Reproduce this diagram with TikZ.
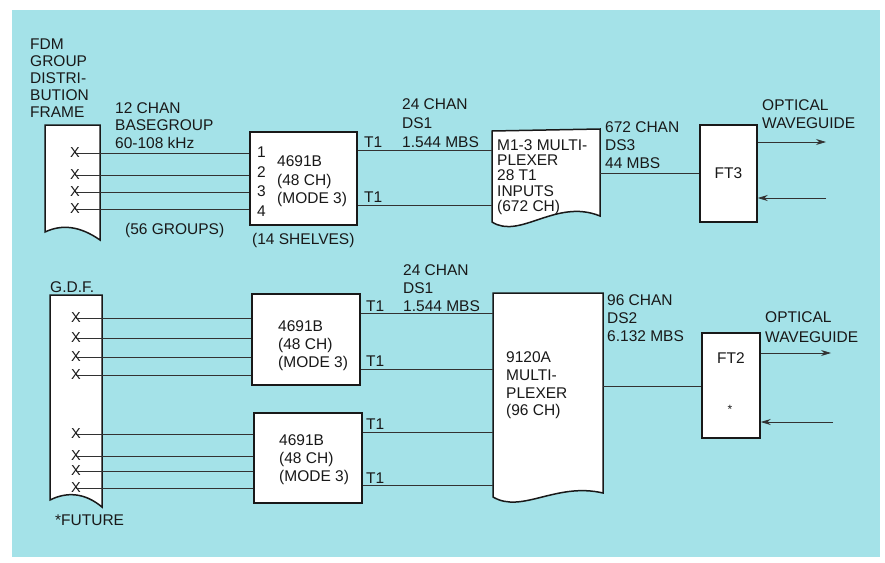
\documentclass[tikz,border=0pt]{standalone}
\usepackage{fontspec}
\setmainfont{Liberation Sans}
\usetikzlibrary{arrows.meta}
\definecolor{bgc}{RGB}{164,226,232}
\definecolor{ink}{RGB}{25,25,25}
\definecolor{wire}{RGB}{50,50,50}
\begin{document}
\begin{tikzpicture}[x=1pt,y=-1pt,
  lbl/.style={anchor=west,inner sep=0pt,align=left,text=ink,font=\fontsize{15.5}{18}\selectfont},
  tight/.style={font=\fontsize{15.5}{15.3}\selectfont},
  unitbox/.style={draw=ink,line width=1.5pt,fill=white,inner sep=0pt,minimum width=#1},
  ghost/.style={draw=none,inner sep=0pt},
  xmark/.style={inner sep=0pt,text=ink,font=\fontsize{14.5}{14.5}\selectfont},
  wireline/.style={draw=wire,line width=0.8pt},
  shapeline/.style={draw=ink,line width=1.5pt,fill=white},
  sig/.style={wireline,-{Stealth[length=10pt,width=6pt]}}
]
% background
\useasboundingbox (0,0) rectangle (885,562);
\fill[white] (0,0) rectangle (885,562);
\fill[bgc] (12,10) rectangle (880,557);

% ---------- frames ----------
\path[shapeline] (45,125) -- (45,232) .. controls (62,224) and (80,226) .. (100,240) -- (100,125) -- cycle;
\path[shapeline] (50,295) -- (50,500) .. controls (66,492) and (84,492) .. (102,507) -- (102,295) -- cycle;

% ---------- multiplexers ----------
\path[shapeline] (492,131) -- (492,222) .. controls (520,240) and (556,198) .. (600,216) -- (600,129) -- cycle;
\path[shapeline] (493,293) -- (493,497) .. controls (522,514) and (556,482) .. (603,493) -- (603,293) -- cycle;
\node[ghost,minimum width=108,minimum height=90] (m1) at (546,176) {};
\node[ghost,minimum width=110,minimum height=200] (m2) at (548,395) {};

% ---------- boxes ----------
\node[unitbox=107,minimum height=93] (b1) at (303.5,178.5) {};
\node[unitbox=108,minimum height=91] (b2) at (306,339.5) {};
\node[unitbox=108,minimum height=90] (b3) at (308,458) {};
\node[unitbox=57,minimum height=97,text=ink,font=\fontsize{15.5}{18}\selectfont] (ft3) at (728.5,173.5) {FT3};
\node[unitbox=58,minimum height=105] (ft2) at (731,385.5) {};
\node[inner sep=0pt,text=ink,font=\fontsize{15.5}{18}\selectfont] (ft2l) at (731,358) {FT2};
\node[inner sep=0pt,text=ink,font=\fontsize{12}{12}\selectfont] (ft2s) at (730,409) {*};

% ---------- X marks ----------
\foreach \n/\y in {a1/153,a2/175,a3/192,a4/209}{\node[xmark] (\n) at (75,\y) {X};}
\foreach \n/\y in {c1/318,c2/338,c3/357,c4/375,d1/434,d2/456,d3/471,d4/488}{\node[xmark] (\n) at (76,\y) {X};}

% ---------- inputs ----------
\foreach \n in {a1,a2,a3,a4}{\draw[wireline] (\n.center) -- (b1.west |- \n.center);}
\foreach \n in {c1,c2,c3,c4}{\draw[wireline] (\n.center) -- (b2.west |- \n.center);}
\foreach \n in {d1,d2,d3,d4}{\draw[wireline] (\n.center) -- (b3.west |- \n.center);}

% ---------- T1 links ----------
\draw[wireline] (b1.east |- 0,150) -- (m1.west |- 0,150);
\draw[wireline] (b1.east |- 0,205) -- (m1.west |- 0,205);
\draw[wireline] (b2.east |- 0,313) -- (m2.west |- 0,313);
\draw[wireline] (b2.east |- 0,369) -- (m2.west |- 0,369);
\draw[wireline] (b3.east |- 0,432) -- (m2.west |- 0,432);
\draw[wireline] (b3.east |- 0,485) -- (m2.west |- 0,485);

% ---------- DS3 / DS2 ----------
\draw[wireline] (m1.east |- 0,173) -- (ft3.west |- 0,173);
\draw[wireline] (m2.east |- 0,386) -- (ft2.west |- 0,386);

% ---------- optical ----------
\coordinate (o3out) at (826,142);
\coordinate (o3in) at (826,198);
\coordinate (o2out) at (831,353);
\coordinate (o2in) at (833,422);
\draw[sig] (ft3.east |- o3out) -- (o3out);
\draw[sig] (o3in) -- (ft3.east |- o3in);
\draw[sig] (ft2.east |- o2out) -- (o2out);
\draw[sig] (o2in) -- (ft2.east |- o2in);

% ---------- labels ----------
\node[lbl,font=\fontsize{15.5}{17}\selectfont] (t0) at (30,78) {FDM\\GROUP\\DISTRI-\\BUTION\\FRAME};
\node[lbl,font=\fontsize{15.5}{17.5}\selectfont] (t1) at (115,125.5) {12 CHAN\\BASEGROUP\\60-108 kHz};
\node[lbl] (t2) at (125,230) {(56 GROUPS)};
\node[lbl] (t3) at (252,240) {(14 SHELVES)};
\foreach \k/\y in {1/152,2/172,3/191,4/211}{\node[lbl] (n\k) at (257,\y) {\k};}
\node[lbl,font=\fontsize{15.5}{18.5}\selectfont] (t4) at (277,181.5) {4691B\\(48 CH)\\(MODE 3)};
\node[lbl] (t5) at (364,142) {T1};
\node[lbl] (t6) at (364,197) {T1};
\node[lbl,font=\fontsize{15.5}{19}\selectfont] (t7) at (402,123) {24 CHAN\\DS1\\1.544 MBS};
\node[lbl,tight] (t8) at (497,177) {M1-3 MULTI-\\PLEXER\\28 T1\\INPUTS\\(672 CH)};
\node[lbl] (t9) at (605,145) {672 CHAN\\DS3\\44 MBS};
\node[lbl,font=\fontsize{15.5}{18.5}\selectfont] (t10) at (762,114) {OPTICAL\\WAVEGUIDE};

\node[lbl] (t11) at (50,287) {G.D.F.};
\node[lbl] (t12) at (55,520) {*FUTURE};
\node[lbl] (t13) at (278,346) {4691B\\(48 CH)\\(MODE 3)};
\node[lbl] (t14) at (279,460) {4691B\\(48 CH)\\(MODE 3)};
\node[lbl] (t15) at (366,306) {T1};
\node[lbl] (t16) at (366,361) {T1};
\node[lbl] (t17) at (366,424) {T1};
\node[lbl] (t18) at (366,478) {T1};
\node[lbl] (t19) at (403,288) {24 CHAN\\DS1\\1.544 MBS};
\node[lbl,font=\fontsize{15.5}{17.7}\selectfont] (t20) at (506,385.5) {9120A\\MULTI-\\PLEXER\\(96 CH)};
\node[lbl] (t21) at (607,318) {96 CHAN\\DS2\\6.132 MBS};
\node[lbl,font=\fontsize{15.5}{20}\selectfont] (t22) at (765,327) {OPTICAL\\WAVEGUIDE};
\end{tikzpicture}
\end{document}
